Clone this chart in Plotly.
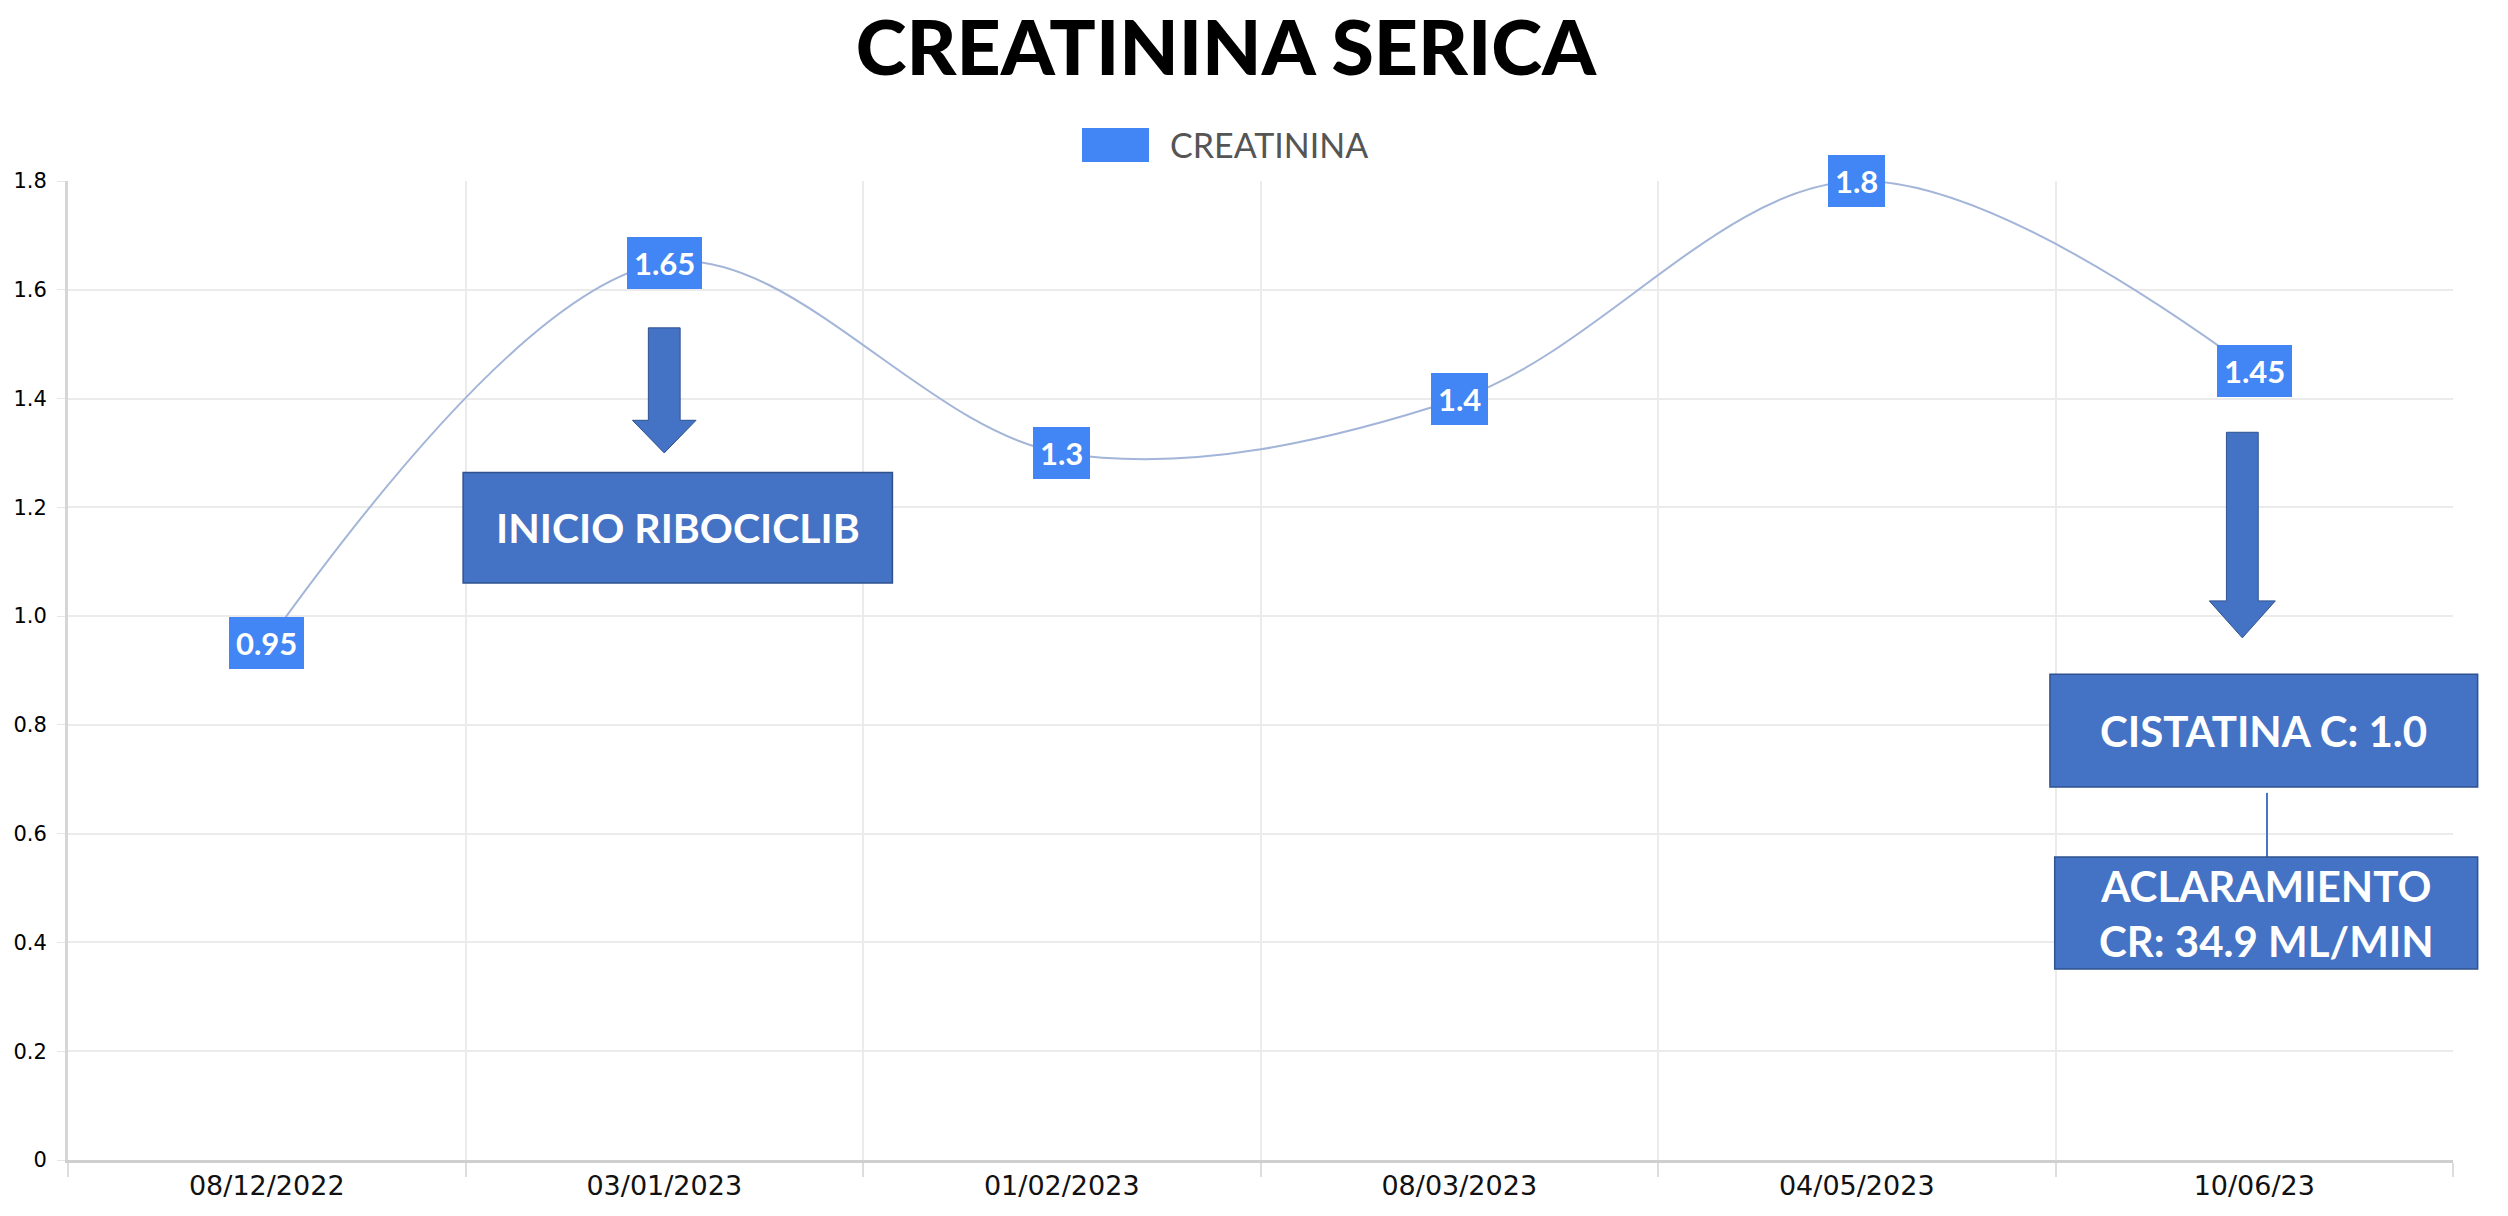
import plotly.graph_objects as go

# ---- data ----
dates = ["08/12/2022", "03/01/2023", "01/02/2023", "08/03/2023", "04/05/2023", "10/06/23"]
creatinina = [0.95, 1.65, 1.3, 1.4, 1.8, 1.45]
y_ticks = [0, 0.2, 0.4, 0.6, 0.8, 1.0, 1.2, 1.4, 1.6, 1.8]
y_ticktext = ["0", "0.2", "0.4", "0.6", "0.8", "1.0", "1.2", "1.4", "1.6", "1.8"]

title_text = "CREATININA SERICA"
series_name = "CREATININA"
note_inicio = "INICIO RIBOCICLIB"
note_cistatina = "CISTATINA C: 1.0"
note_aclar = "ACLARAMIENTO<br>CR: 34.9 ML/MIN"

W, H = 2508, 1216
ML, MR, MT, MB = 68, 55, 181, 56
YMAX = 1.8
NCAT = len(dates)

LABEL_BLUE = "#4285f4"
BOX_BLUE = "#4472c4"
BOX_EDGE = "#2f528f"
LINE_COL = "#a3b5d8"

def px(xc):
    return (xc + 0.5) / NCAT

def py(v):
    return v / YMAX

fig = go.Figure()
fig.add_trace(go.Scatter(
    x=dates, y=creatinina, mode="lines", name=series_name,
    line=dict(shape="spline", smoothing=1.0, color=LINE_COL, width=2),
    showlegend=False, hoverinfo="x+y",
))

shapes = []
annotations = []

# data labels
for d, v in zip(dates, creatinina):
    annotations.append(dict(
        x=d, y=v, xref="x", yref="y", text=f"{v:g}", showarrow=False,
        font=dict(family="Lato", size=31, color="white", weight="bold"),
        bgcolor=LABEL_BLUE, bordercolor=LABEL_BLUE, borderwidth=1, borderpad=6,
    ))

def arrow(xc, y_top, y_head, y_tip, hw_shaft=0.04, hw_head=0.08):
    x0 = px(xc)
    s = hw_shaft / NCAT
    h = hw_head / NCAT
    path = (f"M {x0-s},{py(y_top)} L {x0+s},{py(y_top)} L {x0+s},{py(y_head)} "
            f"L {x0+h},{py(y_head)} L {x0},{py(y_tip)} L {x0-h},{py(y_head)} "
            f"L {x0-s},{py(y_head)} Z")
    return dict(type="path", path=path, xref="paper", yref="paper",
                fillcolor=BOX_BLUE, line=dict(color=BOX_EDGE, width=1), layer="above")

def box(x0, x1, y0, y1):
    return dict(type="rect", xref="paper", yref="paper",
                x0=px(x0), x1=px(x1), y0=py(y0), y1=py(y1),
                fillcolor=BOX_BLUE, line=dict(color=BOX_EDGE, width=1.5), layer="above")

def box_text(x0, x1, y0, y1, text, size):
    return dict(x=(px(x0) + px(x1)) / 2, y=(py(y0) + py(y1)) / 2,
                xref="paper", yref="paper", text=text, showarrow=False,
                xanchor="center", yanchor="middle",
                font=dict(family="Lato", size=size, color="white", weight="bold"))

# arrow + box 1
shapes.append(arrow(1.0, 1.53, 1.36, 1.30))
shapes.append(box(0.494, 1.574, 1.061, 1.264))
annotations.append(box_text(0.494, 1.574, 1.061, 1.264, note_inicio, 41))

# arrow + boxes 2
shapes.append(arrow(4.97, 1.338, 1.028, 0.960, 0.04, 0.083))
shapes.append(box(4.486, 5.562, 0.686, 0.893))
annotations.append(box_text(4.486, 5.562, 0.686, 0.893, note_cistatina, 42))
shapes.append(dict(type="line", xref="paper", yref="paper",
                   x0=px(5.032), x1=px(5.032), y0=py(0.557), y1=py(0.675),
                   line=dict(color=BOX_BLUE, width=2), layer="above"))
shapes.append(box(4.498, 5.562, 0.351, 0.557))
annotations.append(box_text(4.498, 5.562, 0.351, 0.557, note_aclar, 42))

# manual legend (page pixel positions -> paper)
pw = W - ML - MR
ph = H - MT - MB
def lx(X):
    return (X - ML) / pw
def ly(Y):
    return (H - MB - Y) / ph
shapes.append(dict(type="rect", xref="paper", yref="paper",
                   x0=lx(1082), x1=lx(1149), y0=ly(162), y1=ly(128),
                   fillcolor=LABEL_BLUE, line=dict(width=0)))
annotations.append(dict(x=lx(1168), y=ly(145), xref="paper", yref="paper",
                        text=series_name, showarrow=False, xanchor="left", yanchor="middle",
                        font=dict(family="Lato", size=34, color="#555555")))

fig.update_layout(
    width=W, height=H,
    margin=dict(l=ML, r=MR, t=MT, b=MB),
    paper_bgcolor="white", plot_bgcolor="white",
    title=dict(text=title_text, x=1226 / W, xanchor="center",
               y=1 - 48 / H, yanchor="middle", xref="container", yref="container",
               font=dict(family="Lato", size=77, color="black", weight=900)),
    shapes=shapes, annotations=annotations,
    showlegend=False,
    xaxis=dict(
        type="category", categoryorder="array", categoryarray=dates,
        range=[-0.5, NCAT - 0.5], tickson="boundaries",
        showgrid=True, gridcolor="#ebebeb", gridwidth=1.5,
        showline=True, linecolor="#cfcfcf", linewidth=3,
        ticks="outside", ticklen=14, tickcolor="#dddddd", tickwidth=1.5,
        tickfont=dict(family="DejaVu Sans", size=27, color="#111111"),
        automargin=False, fixedrange=True,
    ),
    yaxis=dict(
        range=[0, YMAX], tickvals=y_ticks, ticktext=y_ticktext,
        showgrid=True, gridcolor="#ebebeb", gridwidth=1.5, zeroline=False,
        showline=True, linecolor="#d6d6d6", linewidth=3,
        ticks="outside", ticklen=8, tickcolor="#e6e6e6",
        ticklabelstandoff=6,
        tickfont=dict(family="DejaVu Sans", size=21, color="black"),
        automargin=False, fixedrange=True,
    ),
)

fig.write_html(
    "out.html",
    config={"displayModeBar": False},
    post_script="document.body.style.margin='0';document.body.style.overflow='hidden';",
)
